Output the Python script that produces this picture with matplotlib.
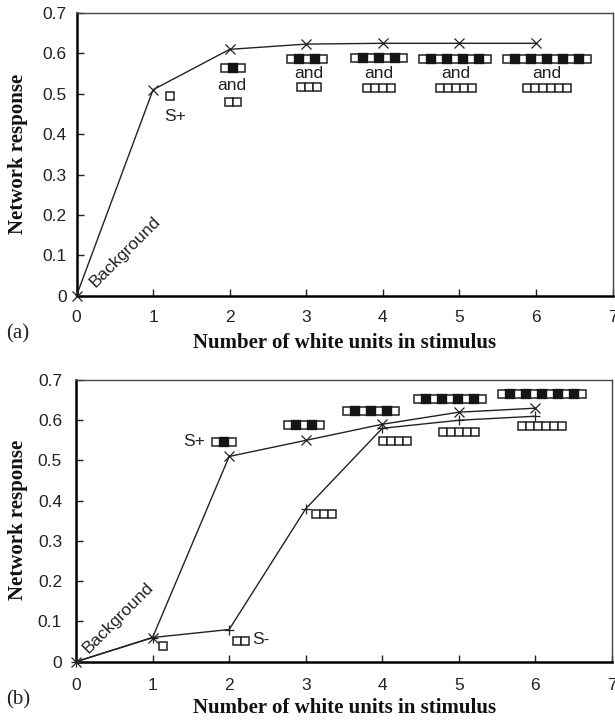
import matplotlib
matplotlib.use("Agg")
import matplotlib.pyplot as plt
from matplotlib.patches import Rectangle

units = [0, 1, 2, 3, 4, 5, 6]
resp_a = [0, 0.51, 0.61, 0.623, 0.625, 0.625, 0.625]
resp_b_plus = [0, 0.06, 0.51, 0.55, 0.59, 0.62, 0.63]
resp_b_minus = [0, 0.06, 0.08, 0.38, 0.58, 0.60, 0.61]

x_ticks = [0, 1, 2, 3, 4, 5, 6, 7]
y_ticks = [0, 0.1, 0.2, 0.3, 0.4, 0.5, 0.6, 0.7]
y_labels = ["0", "0.1", "0.2", "0.3", "0.4", "0.5", "0.6", "0.7"]

W, H = 615, 720
SANS = "Liberation Sans"
SERIF = "Liberation Serif"


def draw_strip(ax, xc, yc, n, alternate=True):
    """Row of n small squares centred on (xc, yc), every second one black if alternate."""
    uw = 8.0 / 76.5
    uh = 8.0 / 403.0
    left = xc - n * uw / 2
    for i in range(n):
        black = alternate and i % 2 == 1
        ax.add_patch(Rectangle((left + i * uw, yc - uh / 2), uw, uh,
                               facecolor="#151515" if black else "white",
                               edgecolor="#151515" if black else "#222222",
                               linewidth=1.7 if black else 1.1,
                               zorder=5 if black else 4))


def setup_axes(px_left, px_right, px_top, px_bottom, xpad, ypad):
    ax = fig.add_axes([px_left / W, 1 - px_bottom / H,
                       (px_right - px_left) / W, (px_bottom - px_top) / H])
    ax.set_xlim(0, 7)
    ax.set_ylim(0, 0.7)
    ax.set_xticks(x_ticks)
    ax.set_yticks(y_ticks)
    ax.set_yticklabels(y_labels)
    ax.tick_params(direction="in", length=5, width=1, color="#222222",
                   labelsize=12.5, labelcolor="#222222")
    ax.tick_params(axis="x", pad=xpad)
    ax.tick_params(axis="y", pad=ypad)
    for lab in ax.get_xticklabels() + ax.get_yticklabels():
        lab.set_family(SANS)
    ax.spines["left"].set_linewidth(1.8)
    ax.spines["bottom"].set_linewidth(1.8)
    ax.spines["top"].set_linewidth(1)
    ax.spines["right"].set_linewidth(1)
    ax.spines["top"].set_color("#444444")
    ax.spines["right"].set_color("#444444")
    return ax


def note(ax, x, y, s, rotation=0):
    ax.text(x, y, s, family=SANS, fontsize=12.5, color="#222222", rotation=rotation,
            ha="center", va="center", zorder=6)


fig = plt.figure(figsize=(W / 100, H / 100), dpi=100)

# panel (a)
ax = setup_axes(76.5, 612.5, 13, 295.7, 10, 7)
ax.plot(units, resp_a, color="#222222", lw=1, marker="x", ms=6.5, mew=0.9,
        mfc="none", clip_on=False, zorder=3)

note(ax, 0.63, 0.108, "Background", rotation=45)
draw_strip(ax, 1.22, 0.494, 1)
note(ax, 1.29, 0.443, "S+")

draw_strip(ax, 2.04, 0.565, 3)
note(ax, 2.03, 0.52, "and")
draw_strip(ax, 2.04, 0.479, 2, alternate=False)

draw_strip(ax, 3.01, 0.586, 5)
note(ax, 3.03, 0.549, "and")
draw_strip(ax, 3.03, 0.517, 3, alternate=False)

draw_strip(ax, 3.95, 0.589, 7)
note(ax, 3.95, 0.551, "and")
draw_strip(ax, 3.95, 0.515, 4, alternate=False)

draw_strip(ax, 4.94, 0.587, 9)
note(ax, 4.95, 0.551, "and")
draw_strip(ax, 4.95, 0.514, 5, alternate=False)

draw_strip(ax, 6.14, 0.586, 11)
note(ax, 6.14, 0.551, "and")
draw_strip(ax, 6.14, 0.515, 6, alternate=False)

# panel (b)
ax = setup_axes(76, 612, 380, 661.7, 11.5, 10)
ax.plot(units, resp_b_plus, color="#222222", lw=1, marker="x", ms=6.5, mew=0.9,
        mfc="none", clip_on=False, zorder=3)
ax.plot(units, resp_b_minus, color="#222222", lw=1, marker="+", ms=6.5, mew=0.9,
        clip_on=False, zorder=3)

note(ax, 0.55, 0.11, "Background", rotation=45)
draw_strip(ax, 1.14, 0.039, 1)
draw_strip(ax, 2.15, 0.052, 2, alternate=False)
note(ax, 2.42, 0.054, "S-")
note(ax, 1.54, 0.548, "S+")
draw_strip(ax, 1.93, 0.546, 3)
draw_strip(ax, 2.98, 0.588, 5)
draw_strip(ax, 3.24, 0.367, 3, alternate=False)
draw_strip(ax, 3.85, 0.623, 7)
draw_strip(ax, 4.17, 0.548, 4, alternate=False)
draw_strip(ax, 4.88, 0.653, 9)
draw_strip(ax, 5.0, 0.572, 5, alternate=False)
draw_strip(ax, 6.09, 0.666, 11)
draw_strip(ax, 6.08, 0.585, 6, alternate=False)

# labels outside the axes
for px, py, s, rot in [(18, 154, "Network response", 90),
                       (18, 520, "Network response", 90),
                       (345, 343, "Number of white units in stimulus", 0),
                       (345, 708, "Number of white units in stimulus", 0)]:
    fig.text(px / W, 1 - py / H, s, family=SERIF, fontweight="bold", fontsize=15,
             color="#111111", rotation=rot, ha="center", va="center")

fig.text(18 / W, 1 - 334 / H, "(a)", family=SERIF, fontsize=15, color="#222222",
         ha="center", va="center")
fig.text(18 / W, 1 - 700 / H, "(b)", family=SERIF, fontsize=15, color="#222222",
         ha="center", va="center")

fig.savefig("out.png", dpi=100)
